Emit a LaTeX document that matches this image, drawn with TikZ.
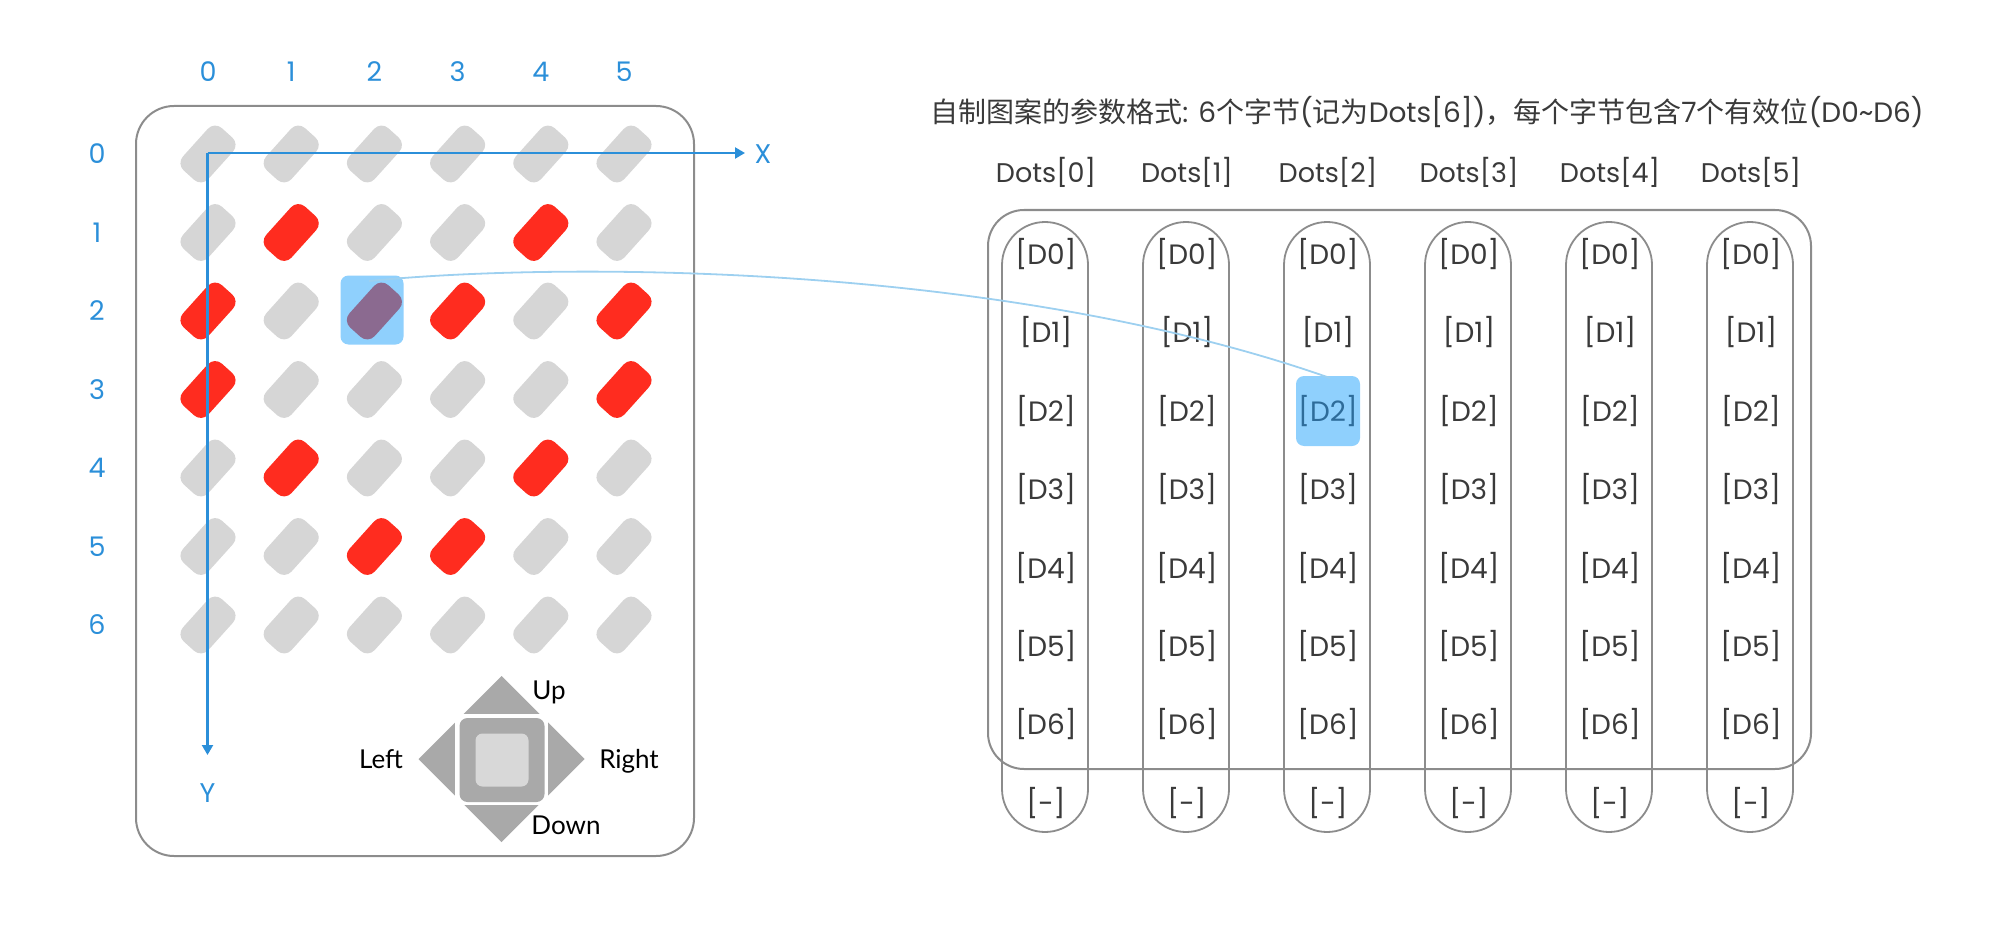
\documentclass[tikz,border=0pt]{standalone}
\usepackage{fontspec}
\setmainfont{Poppins}
\newfontfamily\cjk{Noto Sans CJK SC}
\newfontfamily\latf{Lato}
\usetikzlibrary{arrows.meta}
\definecolor{axblue}{HTML}{2B8FD9}
\definecolor{framegrey}{HTML}{8C8C8C}
\definecolor{hlblue}{HTML}{8FD0FD}
\definecolor{ledr}{HTML}{FF2C1F}
\definecolor{ledg}{HTML}{D6D6D6}
\definecolor{ledp}{HTML}{8B6A90}
\definecolor{dpadc}{HTML}{A9A9A9}
\definecolor{dpadin}{HTML}{D8D8D8}
\definecolor{curvec}{HTML}{9DD0F0}
\definecolor{txt}{HTML}{3A3A3A}
\definecolor{hltext}{HTML}{2E6C9A}
\newcommand\zh[1]{{\cjk #1}}
\begin{document}
\begin{tikzpicture}[x=1pt,y=-1pt,
  frame/.style={draw=framegrey,line width=2pt},
  led/.style={rectangle,draw=none,rounded corners=10pt,minimum width=57pt,minimum height=34pt,rotate=48,inner sep=0pt},
  axlab/.style={text=axblue,font=\fontsize{27}{32}\selectfont,inner sep=0pt},
  axline/.style={draw=axblue,line width=2.2pt,-{Triangle[length=10pt,width=11pt]}},
  pill/.style={draw=framegrey,line width=1.8pt,rectangle,rounded corners=43pt,minimum width=86pt,minimum height=610pt,inner sep=0pt},
  dlab/.style={text=txt,font=\fontsize{28}{33}\selectfont,inner sep=0pt},
  dotlab/.style={text=txt,font=\fontsize{27}{32}\selectfont,inner sep=0pt},
  dirlab/.style={text=black,font=\latf\fontsize{26}{30}\selectfont,inner sep=0pt},
  hlbox/.style={fill=hlblue,draw=none,rounded corners=8pt,inner sep=0pt},
  link/.style={draw=curvec,line width=1.8pt}]
\useasboundingbox (0,0) rectangle (1996,944);

% ---------- left panel ----------
\draw[frame,rounded corners=38pt] (136,106) rectangle (694,856);

\foreach \c in {0,...,5}
  \node[axlab] (cx\c) at ({208+83.2*\c},72) {\c};
\foreach \r in {0,...,6}
  \node[axlab] (ry\r) at (97,{154+78.5*\r}) {\r};

\node[hlbox,minimum width=63pt,minimum height=69pt] (hl) at (372,310) {};

\foreach \r/\cols in {0/{g,g,g,g,g,g},1/{g,r,g,g,r,g},2/{r,g,p,r,g,r},3/{r,g,g,g,g,r},4/{g,r,g,g,r,g},5/{g,g,r,r,g,g},6/{g,g,g,g,g,g}}{
  \foreach \col [count=\cc from 0] in \cols {
    \node[led,fill=led\col] (L\r\cc) at ({208+83.2*\cc},{154+78.5*\r}) {};
  }
}

\coordinate (org) at (207.5,153);
\coordinate (xend) at (745,153);
\coordinate (yend) at (207.5,755);
\draw[axline] (org) -- (xend);
\draw[axline] (org) -- (yend);
\node[axlab] (xl) at (763,154) {X};
\node[axlab] (yl) at (207.5,793) {Y};

% d-pad
\fill[dpadc] (501.5,676) -- (584.5,759) -- (501.5,842) -- (418.5,759) -- cycle;
\fill[white] (455,713.7) rectangle (547.5,805);
\node[fill=dpadc,rounded corners=8pt,minimum width=85pt,minimum height=84pt,inner sep=0pt] (pad) at (502,760) {};
\node[fill=dpadin,rounded corners=7pt,minimum width=53pt,minimum height=53pt,inner sep=0pt] (padin) at (502,760) {};
\node[dirlab] (up) at (549,692) {Up};
\node[dirlab] (lt) at (381,759) {Left};
\node[dirlab] (rt) at (629,761) {Right};
\node[dirlab] (dn) at (566,825) {Down};

% ---------- right panel ----------
\node[text=txt,font=\fontsize{28}{33}\selectfont,inner sep=0pt] (title) at (1427,112)
  {\zh{自制图案的参数格式}: 6\zh{个字节}(\zh{记为}Dots[6])\zh{，每个字节包含}7\zh{个有效位}(D0\textasciitilde D6)};

\draw[frame,rounded corners=36pt] (988,210) rectangle (1811,769);

\node[hlbox,minimum width=64pt,minimum height=70pt] (hl2) at (1328,411) {};

\foreach \i in {0,...,5}{
  \node[dotlab] (dots\i) at ({1046+141*\i},172) {Dots[\i]};
  \node[pill] (P\i) at ({1045+141*\i},527) {};
  \foreach \k in {0,...,6}{
    \ifnum\i\k=22
      \node[dlab,text=hltext] (D\i\k) at ({1046+141*\i},{254+78.4*\k}) {[D\k]};
    \else
      \node[dlab] (D\i\k) at ({1046+141*\i},{254+78.4*\k}) {[D\k]};
    \fi
  }
  \node[dlab] (M\i) at ({1046+141*\i},803) {[-]};
}

% link
\coordinate (ls) at (369,281);
\coordinate (le) at (1330,378);
\draw[link] (ls) .. controls (560,262) and (1000,262) .. (le);
\end{tikzpicture}
\end{document}
